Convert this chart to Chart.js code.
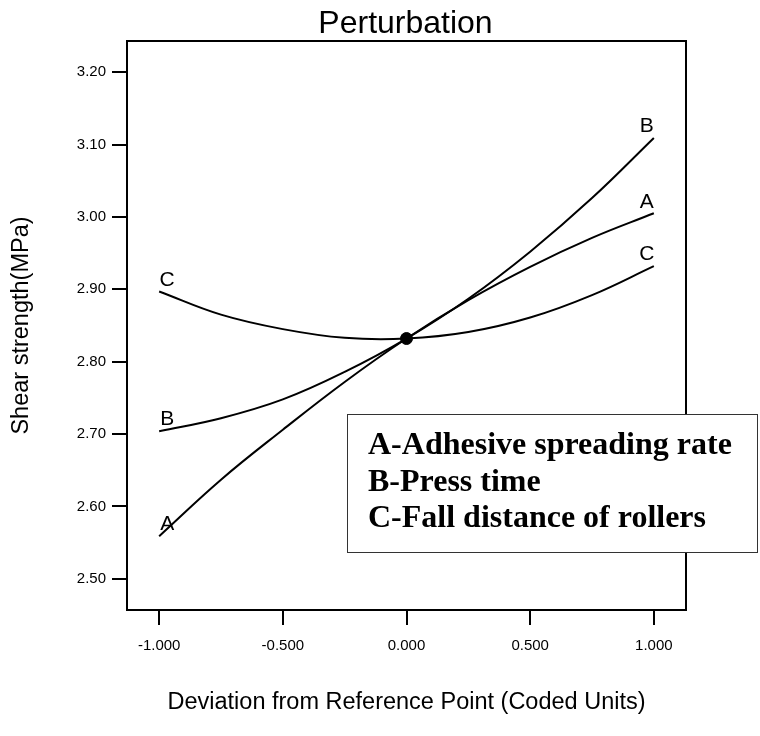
<!DOCTYPE html>
<html>
<head>
<meta charset="utf-8">
<script src="https://cdn.jsdelivr.net/npm/chart.js@4"></script>
<style>
html, body { margin: 0; padding: 0; background: #fff; }
</style>
</head>
<body>
<canvas id="myChart" width="760" height="736"></canvas>
<script>
// values
const xValues = [-1, -0.75, -0.5, -0.25, 0, 0.25, 0.5, 0.75, 1]
const seriesA = [2.559, 2.637, 2.706, 2.772, 2.832, 2.885, 2.931, 2.971, 3.005]
const seriesB = [2.704, 2.722, 2.748, 2.786, 2.832, 2.887, 2.952, 3.026, 3.109]
const seriesC = [2.897, 2.865, 2.845, 2.833, 2.832, 2.841, 2.861, 2.892, 2.932]
const seriesNames = ['A', 'B', 'C']
const refX = [0]
const refY = [2.832]
const xTicks = [-1, -0.5, 0, 0.5, 1]
const yTicks = [2.5, 2.6, 2.7, 2.8, 2.9, 3.0, 3.1, 3.2]
const chartTitle = 'Perturbation'
const legendLines = ['A-Adhesive spreading rate', 'B-Press time', 'C-Fall distance of rollers']

const sans = 'Liberation Sans, Arial, sans-serif'

function toPoints(ys) {
    return xValues.map((x, i) => ({x: x, y: ys[i]}))
}

const curveStyle = {
    borderColor: '#000',
    borderWidth: 2,
    pointRadius: 0,
    tension: 0.4,
    fill: false
}

// title over the plot, box around it, letters at the curve ends, factor key
const extras = {
    id: 'extras',
    afterDatasetsDraw(chart) {
        const c = chart.ctx
        const ca = chart.chartArea
        const xs = chart.scales.x
        const ys = chart.scales.y
        c.save()
        c.fillStyle = '#000'
        c.font = '32px ' + sans
        c.textAlign = 'center'
        c.textBaseline = 'alphabetic'
        c.fillText(chartTitle, (ca.left + ca.right) / 2 - 1, ca.top - 8)

        c.strokeStyle = '#000'
        c.lineWidth = 2
        c.strokeRect(ca.left, ca.top, ca.right - ca.left, ca.bottom - ca.top)

        c.font = '21px ' + sans
        c.textBaseline = 'bottom'
        const all = [seriesA, seriesB, seriesC]
        all.forEach((s, i) => {
            const x0 = xs.getPixelForValue(xValues[0])
            const y0 = ys.getPixelForValue(s[0])
            c.fillText(seriesNames[i], x0 + 8, y0 - 1)
            const n = xValues.length - 1
            const x1 = xs.getPixelForValue(xValues[n])
            const y1 = ys.getPixelForValue(s[n])
            c.fillText(seriesNames[i], x1 - 7, y1 - 1)
        })

        const bx = ca.left + 220
        const by = ca.top + 373
        const bw = 410
        const bh = 138
        c.fillStyle = '#fff'
        c.fillRect(bx, by, bw, bh)
        c.strokeStyle = '#333'
        c.lineWidth = 1
        c.strokeRect(bx + 0.5, by + 0.5, bw, bh)
        c.fillStyle = '#000'
        c.font = 'bold 32px Liberation Serif, Times New Roman, serif'
        c.textAlign = 'left'
        c.textBaseline = 'alphabetic'
        legendLines.forEach((t, i) => {
            c.fillText(t, bx + 21, by + 40 + i * 36.5)
        })
        c.restore()
    }
}

try {
    var ctx = document.getElementById('myChart').getContext('2d')
    var myChart = new Chart(ctx, {
        type: 'line',
        data: {
            datasets: [
                Object.assign({label: 'A', data: toPoints(seriesA)}, curveStyle),
                Object.assign({label: 'B', data: toPoints(seriesB)}, curveStyle),
                Object.assign({label: 'C', data: toPoints(seriesC)}, curveStyle),
                {
                    label: 'ref',
                    data: refX.map((x, i) => ({x: x, y: refY[i]})),
                    showLine: false,
                    pointRadius: 6,
                    pointBackgroundColor: '#000',
                    pointBorderColor: '#000'
                }
            ]
        },
        options: {
            responsive: false,
            animation: false,
            layout: {
                padding: {top: 41, right: 74, bottom: 0, left: 0}
            },
            plugins: {
                legend: {display: false},
                tooltip: {enabled: false},
                title: {display: false}
            },
            scales: {
                x: {
                    type: 'linear',
                    min: -1.13,
                    max: 1.13,
                    afterBuildTicks: s => { s.ticks = xTicks.map(v => ({value: v})) },
                    afterFit: s => { s.height = 126 },
                    ticks: {
                        callback: v => v.toFixed(3),
                        color: '#000',
                        font: {family: sans, size: 15},
                        padding: 12,
                        maxRotation: 0,
                        autoSkip: false
                    },
                    grid: {drawOnChartArea: false, drawTicks: true, tickLength: 15, color: '#000', lineWidth: 2},
                    border: {display: true, color: '#000', width: 2},
                    title: {
                        display: true,
                        text: 'Deviation from Reference Point (Coded Units)',
                        color: '#000',
                        font: {family: sans, size: 23.5},
                        padding: {top: 0, bottom: 19}
                    }
                },
                y: {
                    type: 'linear',
                    min: 2.457,
                    max: 3.243,
                    afterBuildTicks: s => { s.ticks = yTicks.map(v => ({value: v})) },
                    afterFit: s => { s.width = 127 },
                    ticks: {
                        callback: v => v.toFixed(2),
                        color: '#000',
                        font: {family: sans, size: 15},
                        padding: 6,
                        autoSkip: false
                    },
                    grid: {drawOnChartArea: false, drawTicks: true, tickLength: 15, color: '#000', lineWidth: 2},
                    border: {display: true, color: '#000', width: 2},
                    title: {
                        display: true,
                        text: 'Shear strength(MPa)',
                        color: '#000',
                        font: {family: sans, size: 23.5},
                        padding: {top: 7, bottom: 0}
                    }
                }
            }
        },
        plugins: [extras]
    })
} catch (error) {
    console.log(error)
}
</script>
</body>
</html>
